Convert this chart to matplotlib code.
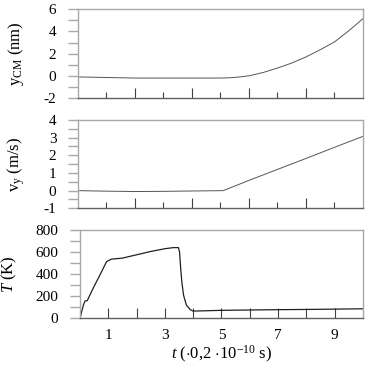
import numpy as np
import matplotlib
matplotlib.use('Agg')
from matplotlib import pyplot as plt

plt.rcParams['font.family'] = ['Liberation Serif', 'DejaVu Serif']
plt.rcParams['mathtext.fontset'] = 'custom'
plt.rcParams['mathtext.rm'] = 'Liberation Serif'
plt.rcParams['mathtext.it'] = 'Liberation Serif:italic'
plt.rcParams['axes.unicode_minus'] = False

# centre-of-mass position (nm)
t_ycm = [0, 1, 2, 3, 4, 5, 5.3, 5.6, 6.0, 6.5, 7.0, 7.5, 8.0, 8.5, 9.0, 9.5, 10]
ycm = [-0.1, -0.15, -0.2, -0.2, -0.2, -0.2, -0.18, -0.12, 0.0, 0.3, 0.7, 1.15, 1.7, 2.35, 3.05, 4.05, 5.15]

# velocity (m/s)
t_vy = [0, 1, 2, 3, 4, 5.1, 6, 7, 8, 9, 10]
vy = [0, -0.03, -0.05, -0.04, -0.02, 0.0, 0.58, 1.2, 1.82, 2.45, 3.07]

# temperature (K)
t_T = [0, 0.03, 0.06, 0.12, 0.18, 0.26, 0.35, 0.5, 0.7, 0.94, 1.1, 1.5, 2.0, 2.5, 3.0, 3.3, 3.48,
       3.52, 3.56, 3.6, 3.66, 3.76, 3.9, 4.0, 5, 6, 7, 8, 9, 10]
T = [0, 30, 60, 120, 157, 160, 211, 290, 390, 513, 535, 545, 575, 605, 630, 640, 640,
     600, 450, 330, 210, 120, 78, 65, 72, 75, 78, 80, 83, 86]

frame = '#a8a8a8'
line = '#555555'

fig = plt.figure(figsize=(3.68, 3.65), dpi=100)
ax1 = fig.add_axes([0.212, 0.7315, 0.774, 0.243])
ax2 = fig.add_axes([0.212, 0.4293, 0.774, 0.242])
ax3 = fig.add_axes([0.2174, 0.128, 0.7686, 0.242])

ax1.plot(t_ycm, ycm, color=line, lw=0.7)
ax2.plot(t_vy, vy, color=line, lw=0.7)
ax3.plot(t_T, T, color='#202020', lw=0.9)

ax1.set_ylim(-2, 6)
ax1.set_yticks([-2, 0, 2, 4, 6])
ax1.set_yticks(np.arange(-2, 7, 1), minor=True)
ax2.set_ylim(-1, 4)
ax2.set_yticks([-1, 0, 1, 2, 3, 4])
ax2.set_yticks(np.arange(-1, 4.5, 0.5), minor=True)
ax3.set_ylim(0, 800)
ax3.set_yticks([0, 200, 400, 600, 800])
ax3.set_yticks(np.arange(0, 801, 100), minor=True)

for ax in (ax1, ax2, ax3):
    ax.set_xlim(0, 10)
    for s in ax.spines.values():
        s.set_color(frame)
        s.set_linewidth(1.0)
    ax.spines['bottom'].set_color('#606060')
    ax.tick_params(axis='y', which='both', direction='out', color=frame, width=1.0,
                   labelsize=11, pad=8.5, length=7)
    ax.tick_params(axis='x', which='both', direction='in', color='#404040', width=0.8)

for ax in (ax1, ax2):
    ax.set_xticks([2, 4, 6, 8])
    ax.set_xticks([1, 3, 5, 7, 9], minor=True)
    ax.tick_params(axis='x', which='major', length=7)
    ax.tick_params(axis='x', which='minor', length=4)
    ax.set_xticklabels([])

ax3.set_xticks([1, 3, 5, 7, 9])
ax3.set_xticks([2, 4, 6, 8], minor=True)
ax3.tick_params(axis='x', which='both', length=7, labelsize=11, pad=8)

ax1.set_ylabel(r'y$_{\mathrm{CM}}$ (nm)', fontsize=12, labelpad=13)
ax2.set_ylabel(r'v$_{\mathrm{y}}$ (m/s)', fontsize=12, labelpad=12)
ax3.set_ylabel(r'$T$ (K)', fontsize=12, labelpad=12)
ax3.set_xlabel(r'$t$ ($\cdot$0,2 $\cdot$10$^{-10}$ s)', fontsize=12, labelpad=1)

fig.savefig('out.png', dpi=100)
